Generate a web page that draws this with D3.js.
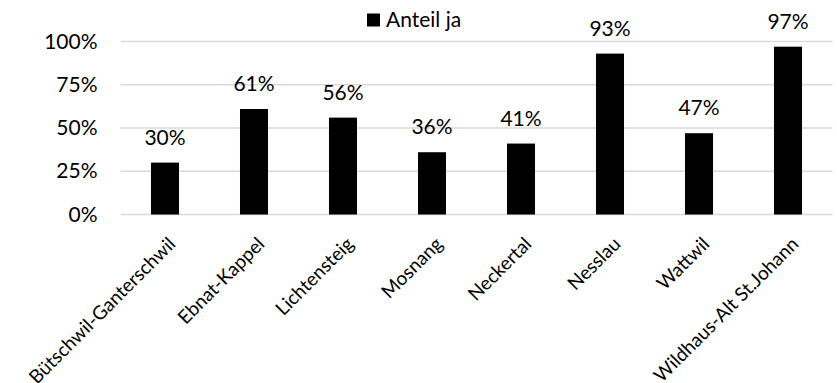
<!DOCTYPE html>
<html>
<head>
<meta charset="utf-8">
<script src="https://cdn.jsdelivr.net/npm/d3@7"></script>
<style>
  body { margin: 0; background: #fff; }
  svg { display: block; }
  text { font-family: Lato, "Open Sans", sans-serif; fill: #000; }
</style>
</head>
<body>
<svg id="chart" width="837" height="383"></svg>
<script>
const categories = ["Bütschwil-Ganterschwil", "Ebnat-Kappel", "Lichtensteig", "Mosnang", "Neckertal", "Nesslau", "Wattwil", "Wildhaus-Alt St.Johann"];
const values = [0.30, 0.61, 0.56, 0.36, 0.41, 0.93, 0.47, 0.97];
const valueLabels = ["30%", "61%", "56%", "36%", "41%", "93%", "47%", "97%"];
const yTicks = [0, 0.25, 0.5, 0.75, 1];
const seriesName = "Anteil ja";

(function () {
const svg = d3.select("#chart");
const pL = 120.5, pR = 832.5, pT = 41.5, pB = 214.5;
const fs = "21px";

const x = d3.scaleBand().domain(categories).range([pL, pR]).paddingInner(0.685).paddingOuter(0.3425);
const y = d3.scaleLinear().domain([0, 1]).range([pB, pT]);

// gridlines
svg.append("g").selectAll("line").data(yTicks).join("line")
  .attr("x1", pL).attr("x2", pR)
  .attr("y1", d => y(d)).attr("y2", d => y(d))
  .attr("stroke", "#d9d9d9").attr("stroke-width", 1.5);

// y axis labels
const yAxis = svg.append("g").attr("transform", `translate(${pL},0)`)
  .call(d3.axisLeft(y).tickValues(yTicks).tickFormat(d3.format(".0%")).tickSize(0).tickPadding(23));
yAxis.select(".domain").remove();
yAxis.selectAll("text").style("font-size", fs).style("font-family", "Lato, 'Open Sans', sans-serif").attr("fill", "#000");

// bars
svg.append("g").selectAll("rect").data(categories).join("rect")
  .attr("x", d => x(d))
  .attr("width", x.bandwidth())
  .attr("y", (d, i) => y(values[i]))
  .attr("height", (d, i) => y(0) - y(values[i]))
  .attr("fill", "#000");

// value labels
svg.append("g").selectAll("text").data(categories).join("text")
  .attr("x", d => x(d) + x.bandwidth() / 2)
  .attr("y", (d, i) => y(values[i]) - 18)
  .attr("text-anchor", "middle")
  .style("font-size", fs)
  .text((d, i) => valueLabels[i]);

// x axis labels
const xAxis = svg.append("g").attr("transform", `translate(0,${pB})`)
  .call(d3.axisBottom(x).tickSize(0).tickPadding(0));
xAxis.select(".domain").remove();
xAxis.selectAll("text")
  .style("font-size", "19px").style("font-family", "Lato, 'Open Sans', sans-serif").attr("fill", "#000")
  .attr("text-anchor", "end")
  .attr("y", 0)
  .attr("dy", "0.35em")
  .attr("transform", "translate(7,26) rotate(-45)");

// legend
const lg = svg.append("g");
lg.append("rect").attr("x", 367).attr("y", 13.5).attr("width", 13).attr("height", 13).attr("fill", "#000");
lg.append("text").attr("x", 386).attr("y", 27).style("font-size", fs).text(seriesName);
})();
</script>
</body>
</html>
